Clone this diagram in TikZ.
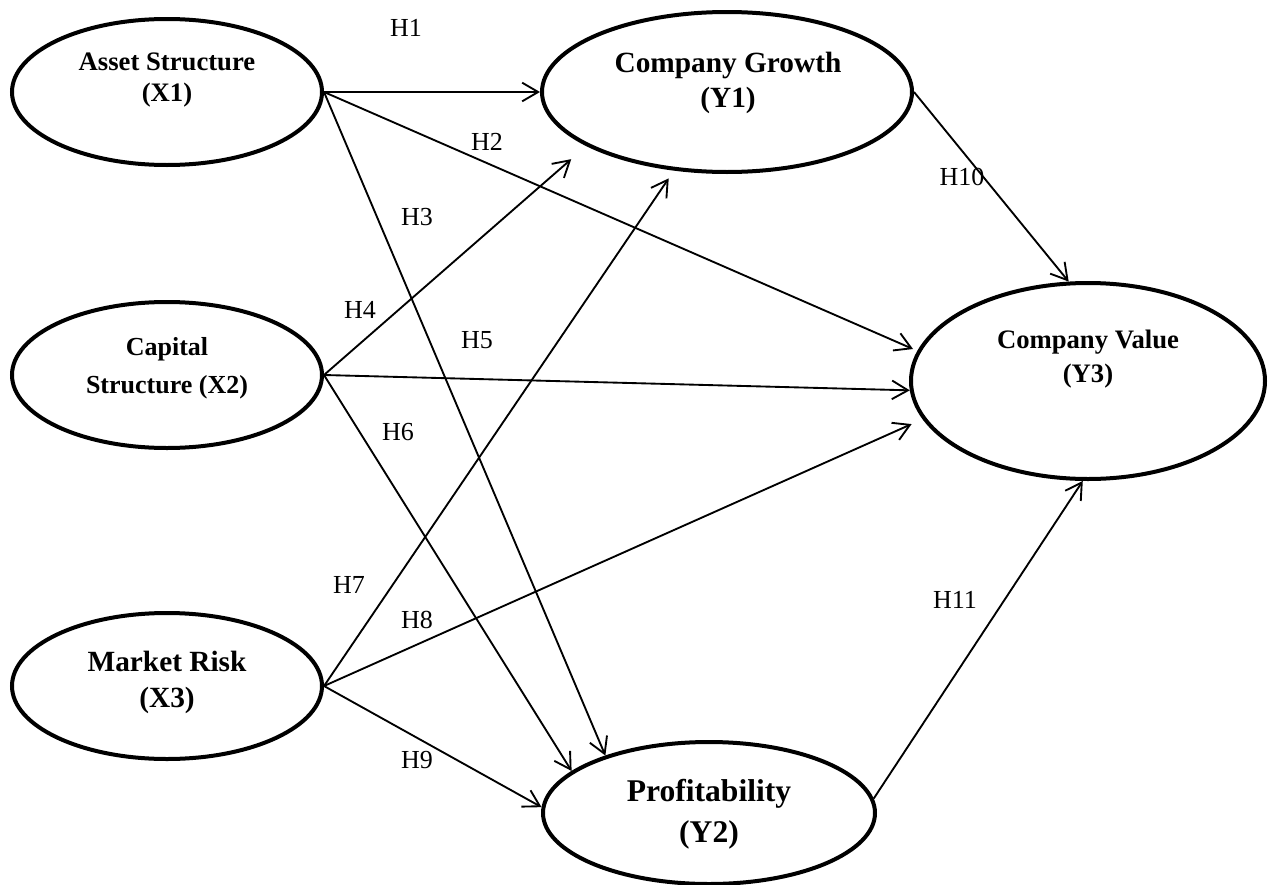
\documentclass[tikz,border=0pt]{standalone}
\usepackage{fontspec}
\setmainfont{Liberation Serif}
\usetikzlibrary{arrows.meta,shapes.geometric}
\begin{document}
\begin{tikzpicture}[x=0.75pt,y=-0.75pt,
  latent/.style={draw, ellipse, line width=3pt, inner sep=0pt},
  xbox/.style={latent, minimum width=232.5pt, minimum height=109.5pt},
  arr/.style={line width=1.4pt, -{Straight Barb[length=12pt,width=14pt]}},
  hlab/.style={font=\fontsize{19.5pt}{23pt}\selectfont, inner sep=0pt},
  ttext/.style={align=center, inner sep=0pt},
  ]
\useasboundingbox (0,0) rectangle (1271,885);
% ellipses
\node[xbox] (X1) at (167,92) {};
\node[xbox] (X2) at (167,375) {};
\node[xbox] (X3) at (167,686) {};
\node[latent, minimum width=277.5pt, minimum height=120pt] (Y1) at (727,92) {};
\node[latent, minimum width=265.5pt, minimum height=147pt] (Y3) at (1088,381) {};
\node[latent, minimum width=249pt, minimum height=106.5pt] (Y2) at (709,813) {};
% texts
\node[ttext, font=\bfseries\fontsize{20pt}{23.25pt}\selectfont] (X1t) at (167,80.5) {Asset Structure\\(X1)};
\node[ttext, font=\bfseries\fontsize{19.5pt}{28.5pt}\selectfont] (X2t) at (167,368) {Capital\\Structure (X2)};
\node[ttext, font=\bfseries\fontsize{22pt}{27pt}\selectfont] (X3t) at (167,682.6) {Market Risk\\(X3)};
\node[ttext, font=\bfseries\fontsize{22pt}{26pt}\selectfont] (Y1t) at (728,83) {Company Growth\\(Y1)};
\node[ttext, font=\bfseries\fontsize{20pt}{26pt}\selectfont] (Y3t) at (1088,359) {Company Value\\(Y3)};
\node[ttext, font=\bfseries\fontsize{23.7pt}{31pt}\selectfont] (Y2t) at (709,814.3) {Profitability\\(Y2)};
% connectors
\draw[arr] (X1.east) -- (Y1.west);
\draw[arr, shorten >=3.5pt] (X1.east) -- (Y3.170);
\draw[arr] (X1.east) -- (Y2.151.7);
\draw[arr, shorten >=15pt] (X2.east) -- (Y1.201.5);
\draw[arr] (X2.east) -- (Y3.183);
\draw[arr] (X2.east) -- (Y2.163.9);
\draw[arr, shorten >=7pt] (X3.east) -- (Y1.236.5);
\draw[arr, shorten >=9pt] (X3.east) -- (Y3.193.2);
\draw[arr] (X3.east) -- (Y2.178);
\draw[arr] (Y1.east) -- (Y3.101.5);
\draw[arr] (Y2.5) -- (Y3.267);
% labels
\node[hlab] (h1) at (406,28) {H1};
\node[hlab] (h2) at (487,142) {H2};
\node[hlab] (h3) at (417,217) {H3};
\node[hlab] (h4) at (360,310) {H4};
\node[hlab] (h5) at (477,340) {H5};
\node[hlab] (h6) at (398,432) {H6};
\node[hlab] (h7) at (349,585) {H7};
\node[hlab] (h8) at (417,620) {H8};
\node[hlab] (h9) at (417,760) {H9};
\node[hlab] (h10) at (962,177) {H10};
\node[hlab] (h11) at (955,600) {H11};
\end{tikzpicture}
\end{document}
